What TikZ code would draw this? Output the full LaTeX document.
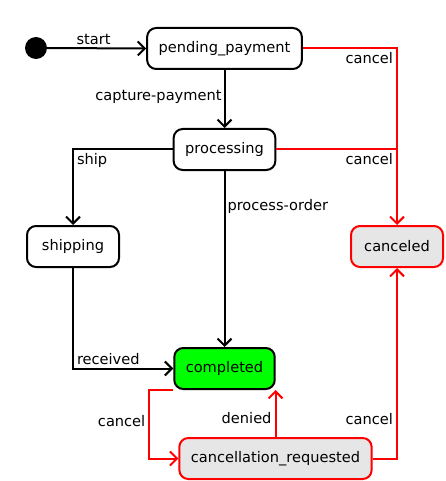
\documentclass[tikz,border=0pt]{standalone}
\usepackage{fontspec}
\setmainfont{DejaVu Sans}
\usepackage{xcolor}
\usetikzlibrary{arrows.meta}
\definecolor{cancel-red}{HTML}{FF0000}
\definecolor{cancel-gray}{HTML}{E6E6E6}
\definecolor{done-green}{HTML}{00FF00}
\tikzset{
    state-box/.style = {draw=black, fill=white, line width=2pt, rectangle, rounded corners=9pt, inner xsep=11.5pt, minimum width=92pt, minimum height=41pt},
    cancel-box/.style = {state-box, draw=cancel-red, fill=cancel-gray},
    done-box/.style = {state-box, fill=done-green},
    flow/.style = {draw, line width=2pt, -{Straight Barb[length=7pt, width=14pt, line width=2pt]}},
    cancel-flow/.style = {flow, draw=cancel-red},
    edge-label/.style = {inner sep=3pt},
}

\begin{document}
\begin{tikzpicture}[x=1pt, y=-1pt, font=\fontsize{14.6}{17}\selectfont]
\useasboundingbox (0,0) rectangle (445,481);
% states
\fill (36,48) circle (11pt) coordinate (initial);
\node [state-box] (pending_payment) at (224.5,48.5) {pending\_payment};
\node [state-box] (processing) at (224.5,149.5) {processing};
\node [state-box] (shipping) at (73,246.5) {shipping};
\node [cancel-box] (canceled) at (397,246.5) {canceled};
\node [done-box] (completed) at (224.5,368.5) {completed};
\node [cancel-box] (cancellation_requested) at (275.5,458.5) {cancellation\_requested};
% transitions
\draw [flow] (47,48) -- node[edge-label, above, pos=0.47] {start} (pending_payment.west);
\draw [flow] (pending_payment.south) -- node[edge-label, left, pos=0.47, inner sep=2pt] {capture-payment} (processing.north);
\draw [flow] (processing.west) -| node[edge-label, anchor=north west, pos=0.5] {ship} (shipping.north);
\draw [flow] (processing.south) -- node[edge-label, right, pos=0.2, inner sep=2pt] {process-order} (completed.north);
\draw [flow] (shipping.south) |- node[edge-label, anchor=south west, pos=0.5] {received} (completed.west);
% cancel transitions
\draw [cancel-flow] (pending_payment.east) -| node[edge-label, anchor=north east, pos=0.5] {cancel} (canceled.north);
\draw [cancel-flow, -] (processing.east) -- node[edge-label, anchor=north east, pos=1] {cancel} (processing.east -| canceled.north);
\draw [cancel-flow] (completed.south west) -- ++(-24,0) |- node[edge-label, left, pos=0.225] {cancel} (cancellation_requested.west);
\draw [cancel-flow] (cancellation_requested.north) -- node[edge-label, left, pos=0.4] {denied} (cancellation_requested.north |- completed.south);
\draw [cancel-flow] (cancellation_requested.east) -| node[edge-label, left, pos=0.604] {cancel} (canceled.south);
\end{tikzpicture}
\end{document}
